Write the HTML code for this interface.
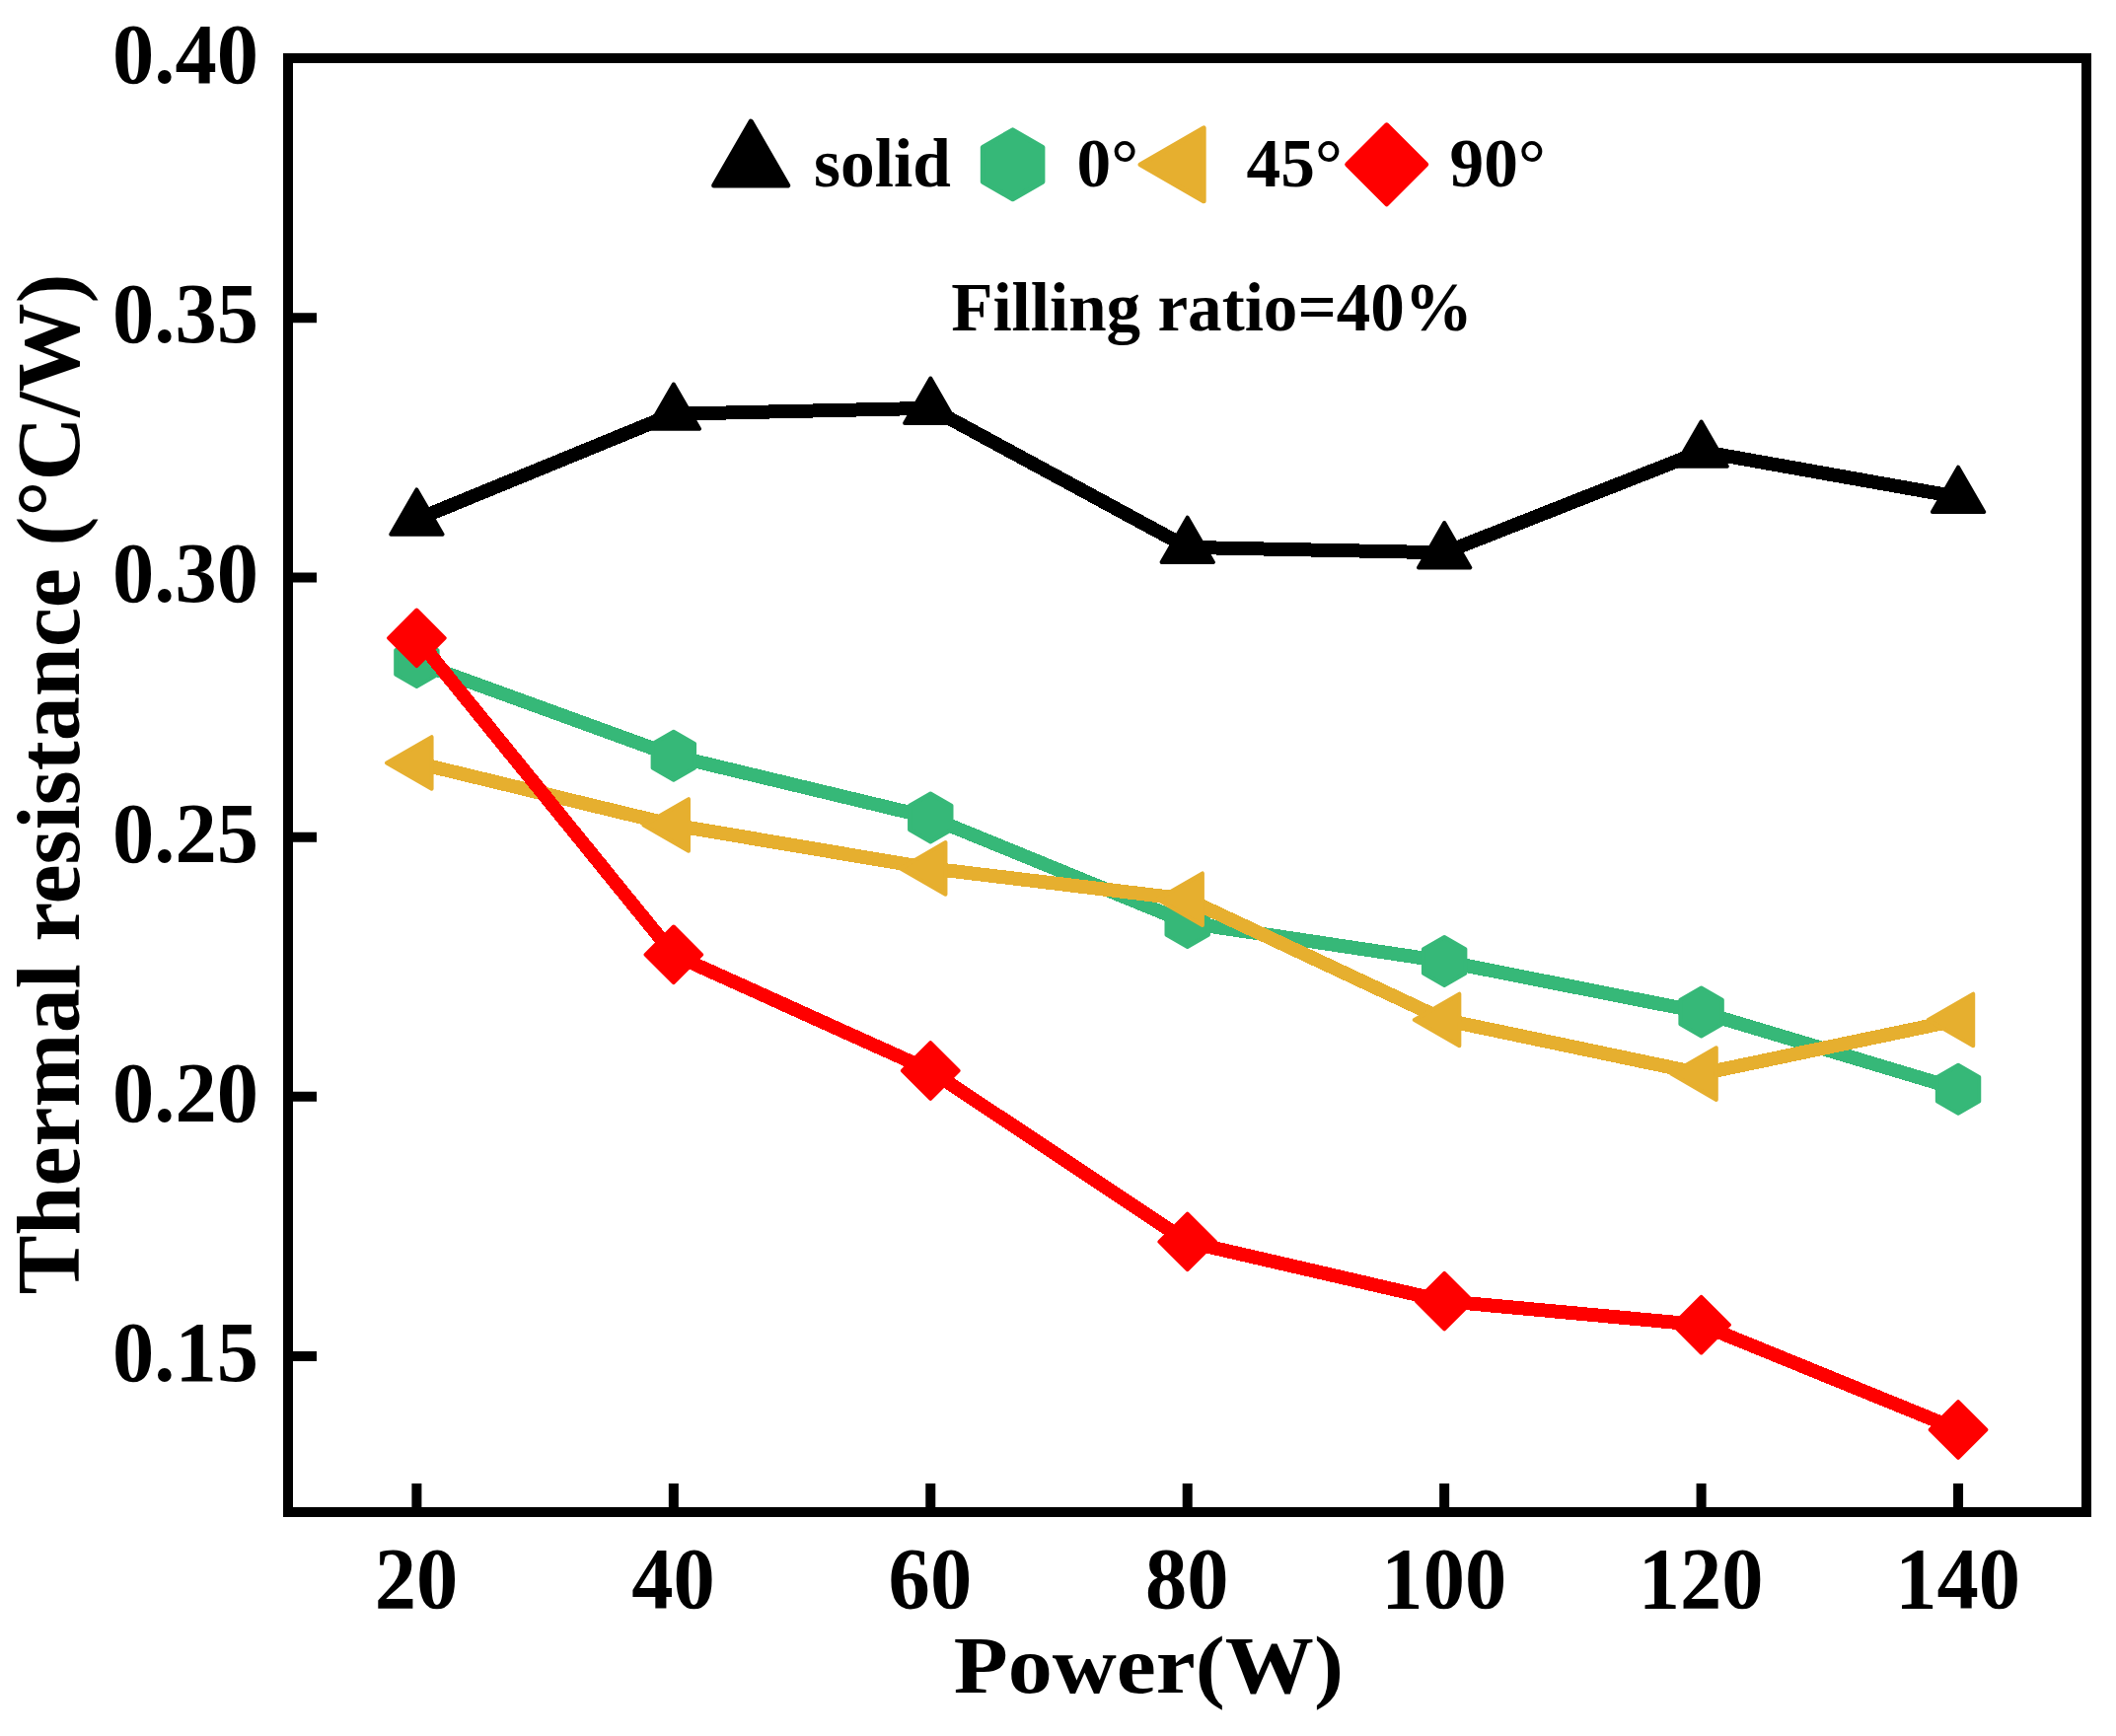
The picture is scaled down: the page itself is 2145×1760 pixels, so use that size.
<!DOCTYPE html>
<html lang="en"><head><meta charset="utf-8"><title>Thermal resistance vs Power</title>
<style>
html,body{margin:0;padding:0;background:#fff;}
body{width:2145px;height:1760px;overflow:hidden;}
svg{display:block;}
text{font-family:"Liberation Serif",serif;font-weight:bold;fill:#000;}
.tk{font-size:83.3px;}
.lg{font-size:69.4px;}
</style></head><body>
<svg width="2145" height="1760" viewBox="0 0 2145 1760">
<rect width="2145" height="1760" fill="#fff"/>
<g fill="none" stroke-width="14" stroke-linejoin="round" stroke-linecap="butt" shape-rendering="crispEdges">
<path d="M422.4 526.6L682.84 419.7L943.28 413.8L1203.72 554.9L1464.16 560.3L1724.6 457.7L1985.04 503.9" stroke="#000000"/>
</g>
<path fill="#000000" stroke="#000000" stroke-width="4" stroke-linejoin="round" d="M422.4 496.4L448.55 541.7L396.25 541.7ZM682.84 389.5L708.99 434.8L656.69 434.8ZM943.28 383.6L969.43 428.9L917.13 428.9ZM1203.72 524.7L1229.87 570L1177.57 570ZM1464.16 530.1L1490.31 575.4L1438.01 575.4ZM1724.6 427.5L1750.75 472.8L1698.45 472.8ZM1985.04 473.7L2011.19 519L1958.89 519Z"/>
<path d="M422.4 671.6L682.84 766.35L943.28 828.9L1203.72 935.5L1464.16 974.6L1724.6 1026.1L1985.04 1104.3" fill="none" stroke-width="14" stroke="#36B878" stroke-linejoin="round" shape-rendering="crispEdges"/>
<path fill="#36B878" stroke="#36B878" stroke-width="4" stroke-linejoin="round" d="M422.4 647.1L401.18 659.35L401.18 683.85L422.4 696.1L443.62 683.85L443.62 659.35ZM682.84 741.85L661.62 754.1L661.62 778.6L682.84 790.85L704.06 778.6L704.06 754.1ZM943.28 804.4L922.06 816.65L922.06 841.15L943.28 853.4L964.5 841.15L964.5 816.65ZM1203.72 911L1182.5 923.25L1182.5 947.75L1203.72 960L1224.94 947.75L1224.94 923.25ZM1464.16 950.1L1442.94 962.35L1442.94 986.85L1464.16 999.1L1485.38 986.85L1485.38 962.35ZM1724.6 1001.6L1703.38 1013.85L1703.38 1038.35L1724.6 1050.6L1745.82 1038.35L1745.82 1013.85ZM1985.04 1079.8L1963.82 1092.05L1963.82 1116.55L1985.04 1128.8L2006.26 1116.55L2006.26 1092.05Z"/>
<path d="M422.4 773.5L682.84 836.5L943.28 880.4L1203.72 911.7L1464.16 1034L1724.6 1088.6L1985.04 1034" fill="none" stroke-width="14" stroke="#E6AF2F" stroke-linejoin="round" shape-rendering="crispEdges"/>
<path fill="#E6AF2F" stroke="#E6AF2F" stroke-width="4" stroke-linejoin="round" d="M392.03 773.5L437.58 747.2L437.58 799.8ZM652.47 836.5L698.02 810.2L698.02 862.8ZM912.91 880.4L958.46 854.1L958.46 906.7ZM1173.35 911.7L1218.9 885.4L1218.9 938ZM1433.79 1034L1479.34 1007.7L1479.34 1060.3ZM1694.23 1088.6L1739.78 1062.3L1739.78 1114.9ZM1954.67 1034L2000.22 1007.7L2000.22 1060.3Z"/>
<path d="M422.4 646.8L682.84 967.8L943.28 1085.5L1203.72 1258.9L1464.16 1319.1L1724.6 1343.2L1985.04 1449.5" fill="none" stroke-width="14" stroke="#FF0000" stroke-linejoin="round" shape-rendering="crispEdges"/>
<path fill="#FF0000" stroke="#FF0000" stroke-width="4" stroke-linejoin="round" d="M422.4 618.5L450.7 646.8L422.4 675.1L394.1 646.8ZM682.84 939.5L711.14 967.8L682.84 996.1L654.54 967.8ZM943.28 1057.2L971.58 1085.5L943.28 1113.8L914.98 1085.5ZM1203.72 1230.6L1232.02 1258.9L1203.72 1287.2L1175.42 1258.9ZM1464.16 1290.8L1492.46 1319.1L1464.16 1347.4L1435.86 1319.1ZM1724.6 1314.9L1752.9 1343.2L1724.6 1371.5L1696.3 1343.2ZM1985.04 1421.2L2013.34 1449.5L1985.04 1477.8L1956.74 1449.5Z"/>
<rect x="292.0" y="59.0" width="1823" height="1474" fill="none" stroke="#000" stroke-width="10"/>
<path d="M292.0 322.2H321M292.0 585.5H321M292.0 848.8H321M292.0 1111.8H321M292.0 1375.1H321M422.4 1533.0V1504M682.84 1533.0V1504M943.28 1533.0V1504M1203.72 1533.0V1504M1464.16 1533.0V1504M1724.6 1533.0V1504M1985.04 1533.0V1504" fill="none" stroke="#000" stroke-width="10"/>
<text class="tk" transform="translate(262.0 347) scale(1.015 1.04)" text-anchor="end">0.35</text>
<text class="tk" transform="translate(262.0 610.3) scale(1.015 1.04)" text-anchor="end">0.30</text>
<text class="tk" transform="translate(262.0 873.6) scale(1.015 1.04)" text-anchor="end">0.25</text>
<text class="tk" transform="translate(262.0 1136.6) scale(1.015 1.04)" text-anchor="end">0.20</text>
<text class="tk" transform="translate(262.0 1399.9) scale(1.015 1.04)" text-anchor="end">0.15</text>
<text class="tk" transform="translate(262.0 83.8) scale(1.015 1.04)" text-anchor="end">0.40</text>
<text class="tk" transform="translate(422 1629.9) scale(1.015 1.055)" text-anchor="middle">20</text>
<text class="tk" transform="translate(682.44 1629.9) scale(1.015 1.055)" text-anchor="middle">40</text>
<text class="tk" transform="translate(942.88 1629.9) scale(1.015 1.055)" text-anchor="middle">60</text>
<text class="tk" transform="translate(1203.32 1629.9) scale(1.015 1.055)" text-anchor="middle">80</text>
<text class="tk" transform="translate(1463.76 1629.9) scale(1.015 1.055)" text-anchor="middle">100</text>
<text class="tk" transform="translate(1724.2 1629.9) scale(1.015 1.055)" text-anchor="middle">120</text>
<text class="tk" transform="translate(1984.64 1629.9) scale(1.015 1.055)" text-anchor="middle">140</text>
<text id="xt" transform="translate(1164.3 1715.9) scale(1.103 1)" font-size="81.7" text-anchor="middle">Power(W)</text>
<text id="yt" transform="translate(80.2 795) rotate(-90)" font-size="90.1" text-anchor="middle">Thermal resistance (°C/W)</text>
<path fill="#000000" stroke="#000000" stroke-width="5" stroke-linejoin="round" d="M761.2 123.1L798.7 188.05L723.7 188.05Z"/>
<path fill="#36B878" stroke="#36B878" stroke-width="5" stroke-linejoin="round" d="M1026.6 131.8L996.29 149.3L996.29 184.3L1026.6 201.8L1056.91 184.3L1056.91 149.3Z"/>
<path fill="#E6AF2F" stroke="#E6AF2F" stroke-width="5" stroke-linejoin="round" d="M1156.08 166.8L1220.16 129.8L1220.16 203.8Z"/>
<path fill="#FF0000" stroke="#FF0000" stroke-width="5" stroke-linejoin="round" d="M1405.7 126.8L1445.7 166.8L1405.7 206.8L1365.7 166.8Z"/>
<text class="lg" x="825" y="189.3">solid</text>
<text class="lg" x="1091.5" y="189.3">0°</text>
<text class="lg" x="1263.5" y="189.3">45°</text>
<text class="lg" x="1469.5" y="189.3">90°</text>
<text id="fr" font-size="69.1" x="964.2" y="335.2">Filling ratio=40%</text>
</svg></body></html>
